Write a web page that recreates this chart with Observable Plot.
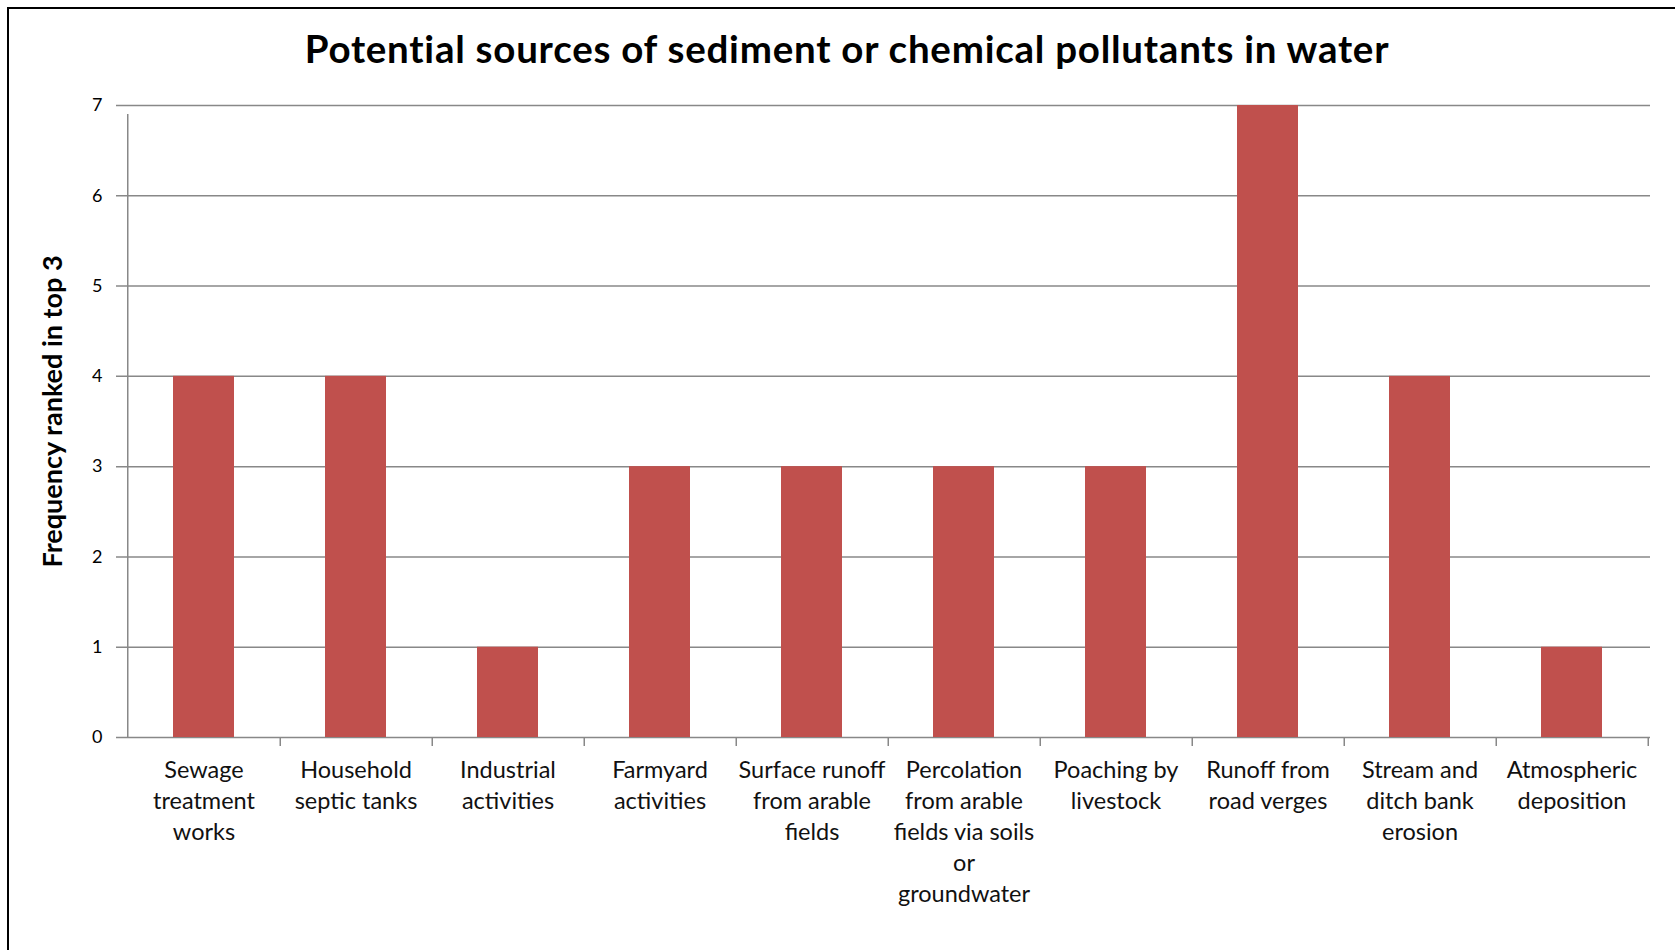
<!DOCTYPE html>
<html><head><meta charset="utf-8">
<script src="https://cdn.jsdelivr.net/npm/d3@7"></script>
<script src="https://cdn.jsdelivr.net/npm/@observablehq/plot@0.6"></script>
<style>
body{margin:0;overflow:hidden;background:#fff;font-family:Lato,sans-serif}
#border{position:absolute;left:7px;top:7px;width:1760px;height:1040px;border:2px solid #000;}
#title{position:absolute;left:0;top:0;width:1694px;height:88px;text-align:center;font-weight:bold;font-size:38.5px;letter-spacing:0.75px;line-height:38px;padding-top:29px;box-sizing:border-box;color:#000;white-space:nowrap}
#chart{position:absolute;left:0;top:88px}
</style></head><body>
<div id="border"></div>
<div id="title">Potential sources of sediment or chemical pollutants in water</div>
<div id="chart"></div>
<script>
const categories = [
  "Sewage treatment works",
  "Household septic tanks",
  "Industrial activities",
  "Farmyard activities",
  "Surface runoff from arable fields",
  "Percolation from arable fields via soils or groundwater",
  "Poaching by livestock",
  "Runoff from road verges",
  "Stream and ditch bank erosion",
  "Atmospheric deposition"
];
const tickLabels = [
  "Sewage\ntreatment\nworks",
  "Household\nseptic tanks",
  "Industrial\nactivities",
  "Farmyard\nactivities",
  "Surface runoff\nfrom arable\nfields",
  "Percolation\nfrom arable\nfields via soils\nor\ngroundwater",
  "Poaching by\nlivestock",
  "Runoff from\nroad verges",
  "Stream and\nditch bank\nerosion",
  "Atmospheric\ndeposition"
];
const values = [4, 4, 1, 3, 3, 3, 3, 7, 4, 1];
const yTicks = [0, 1, 2, 3, 4, 5, 6, 7];
const yLabel = "Frequency ranked in top 3";

const data = categories.map((c, i) => ({category: c, value: values[i], label: tickLabels[i]}));

const width = 1675, height = 862;
const mL = 125, mR = 25, mT = 17, mB = 213;
const step = (width - mL - mR) / categories.length;
const gridColor = "#888888";

const chart = Plot.plot({
  width, height,
  marginLeft: mL, marginRight: mR, marginTop: mT, marginBottom: mB,
  style: {fontFamily: "Lato, sans-serif", background: "transparent", color: "#000"},
  x: {domain: categories, paddingInner: 0.6, paddingOuter: 0.3, axis: null},
  y: {domain: [0, 7]},
  marks: [
    Plot.ruleY(yTicks, {stroke: gridColor, strokeWidth: 1.5, insetLeft: -9}),
    Plot.barY(data, {x: "category", y: "value", fill: "#C0504D"}),
    Plot.ruleX([categories[0]], {x: d => d, y1: 0, y2: 7, dx: -step / 2, insetBottom: -9, stroke: gridColor, strokeWidth: 1.5}),
    Plot.ruleX(categories, {x: d => d, y1: 0, y2: 0, dx: step / 2, insetBottom: -9, stroke: gridColor, strokeWidth: 1.5}),
    Plot.axisY({ticks: yTicks, tickSize: 0, tickPadding: 23, fontSize: 18, label: null, tickFormat: d => String(d)}),
    Plot.text(data, {x: "category", y: 0, text: "label", lineAnchor: "top", dy: 18, fontSize: 23.5, lineHeight: 1.32, fill: "#111"}),
    Plot.text([yLabel], {text: d => d, frameAnchor: "left", textAnchor: "middle", rotate: -90, dx: -72, dy: -10, fontWeight: "bold", fontSize: 27, fill: "#000"})
  ]
});
document.getElementById("chart").appendChild(chart);
</script>
</body></html>
